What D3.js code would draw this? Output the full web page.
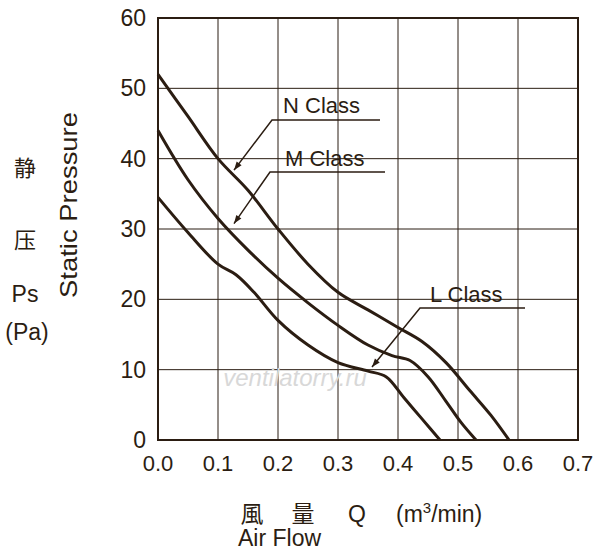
<!DOCTYPE html>
<html><head><meta charset="utf-8">
<script src="https://cdn.jsdelivr.net/npm/d3@7"></script>
<style>body{margin:0;background:#fff}text{font-family:"Liberation Sans",Arial,sans-serif;fill:#2b1d12}</style>
</head><body><svg id="c" width="600" height="558"></svg>
<script>
const xTicks = [0, 0.1, 0.2, 0.3, 0.4, 0.5, 0.6, 0.7];
const yTicks = [0, 10, 20, 30, 40, 50, 60];
const nClass = [[0,52],[0.05,46],[0.1,40],[0.15,35.5],[0.2,30],[0.25,25],[0.3,21],[0.35,18.5],[0.4,16],[0.44,14],[0.48,11],[0.52,7],[0.555,3.5],[0.585,0]];
const mClass = [[0,44],[0.05,37],[0.1,31.5],[0.15,27],[0.2,23],[0.25,19.5],[0.3,16.3],[0.35,13.5],[0.39,12],[0.42,11.3],[0.45,9],[0.48,5.5],[0.505,2.5],[0.53,0]];
const lClass = [[0,34.5],[0.05,29.5],[0.1,25],[0.13,23.5],[0.16,21],[0.2,17],[0.25,13.5],[0.3,11],[0.35,9.8],[0.38,9],[0.41,6],[0.44,3],[0.47,0]];

const svg = d3.select("#c");
const x = d3.scaleLinear().domain([0, 0.7]).range([158, 578]);
const y = d3.scaleLinear().domain([0, 60]).range([440, 18]);
const ink = "#2b1d12";

// grid
svg.append("g").selectAll("line").data(xTicks).join("line")
  .attr("x1", d => x(d)).attr("x2", d => x(d)).attr("y1", y(0)).attr("y2", y(60))
  .attr("stroke", ink).attr("stroke-width", 1);
svg.append("g").selectAll("line").data(yTicks).join("line")
  .attr("x1", x(0)).attr("x2", x(0.7)).attr("y1", d => y(d)).attr("y2", d => y(d))
  .attr("stroke", ink).attr("stroke-width", 1);
svg.append("rect").attr("x", x(0)).attr("y", y(60)).attr("width", x(0.7) - x(0)).attr("height", y(0) - y(60))
  .attr("fill", "none").attr("stroke", ink).attr("stroke-width", 2);

// tick labels
svg.append("g").selectAll("text").data(xTicks).join("text")
  .attr("x", d => x(d)).attr("y", 471).attr("text-anchor", "middle").attr("font-size", 22)
  .text(d => d.toFixed(1));
svg.append("g").selectAll("text").data(yTicks).join("text")
  .attr("x", 146).attr("y", d => y(d) + 8).attr("text-anchor", "end").attr("font-size", 23)
  .text(d => d);

// watermark
svg.append("text").attr("x", 295).attr("y", 386).attr("text-anchor", "middle")
  .attr("font-size", 24).attr("font-style", "italic").style("fill", "#d8d8d8").text("ventilatorry.ru");

// curves
const line = d3.line().x(d => x(d[0])).y(d => y(d[1])).curve(d3.curveCatmullRom);
[nClass, mClass, lClass].forEach(s => svg.append("path").attr("d", line(s))
  .attr("fill", "none").attr("stroke", ink).attr("stroke-width", 3));

// labels with leaders
const labels = [
  {t: "N Class", tx: 283, ty: 113, u1: 272, u2: 380, uy: 120, px: 0.12, py: 37.8},
  {t: "M Class", tx: 285, ty: 166, u1: 270, u2: 385, uy: 172, px: 0.12, py: 30.2},
  {t: "L Class", tx: 430, ty: 302, u1: 420, u2: 525, uy: 308, px: 0.35, py: 9.8}
];
labels.forEach(l => {
  svg.append("text").attr("x", l.tx).attr("y", l.ty).attr("font-size", 22).text(l.t);
  svg.append("polyline").attr("points", `${l.u2},${l.uy} ${l.u1},${l.uy} ${x(l.px) + 4},${y(l.py) - 4}`)
    .attr("fill", "none").attr("stroke", ink).attr("stroke-width", 1.5);
  const ang = Math.atan2(y(l.py) - 4 - l.uy, x(l.px) + 4 - l.u1);
  const ax = x(l.px) + 4, ay = y(l.py) - 4, s = 9;
  svg.append("path").attr("d", `M${ax},${ay} L${ax - s*Math.cos(ang - 0.35)},${ay - s*Math.sin(ang - 0.35)} L${ax - s*Math.cos(ang + 0.35)},${ay - s*Math.sin(ang + 0.35)}Z`)
    .attr("fill", ink);
});

// axis titles
svg.append("text").attr("x", 25).attr("y", 176).attr("text-anchor", "middle").attr("font-size", 22)
  .style("font-family", "Noto Sans CJK JP").text("静");
svg.append("text").attr("x", 25).attr("y", 248).attr("text-anchor", "middle").attr("font-size", 22)
  .style("font-family", "Noto Sans CJK JP").text("压");
svg.append("text").attr("x", 25).attr("y", 302).attr("text-anchor", "middle").attr("font-size", 23).text("Ps");
svg.append("text").attr("x", 27).attr("y", 340).attr("text-anchor", "middle").attr("font-size", 23).text("(Pa)");
svg.append("text").attr("transform", "translate(77,205) rotate(-90)").attr("text-anchor", "middle")
  .attr("font-size", 24).attr("textLength", 186).attr("lengthAdjust", "spacingAndGlyphs").text("Static Pressure");

const jp = [["風", 252], ["量", 303]];
jp.forEach(d => svg.append("text").attr("x", d[1]).attr("y", 522).attr("text-anchor", "middle")
  .attr("font-size", 23).style("font-family", "Noto Sans CJK JP").text(d[0]));
svg.append("text").attr("x", 357).attr("y", 522).attr("text-anchor", "middle").attr("font-size", 23).text("Q");
const un = svg.append("text").attr("x", 396).attr("y", 522).attr("font-size", 23);
un.append("tspan").text("(m");
un.append("tspan").attr("font-size", 15).attr("dy", -9).text("3");
un.append("tspan").attr("dy", 9).text("/min)");
svg.append("text").attr("x", 238).attr("y", 546).attr("font-size", 23).text("Air Flow");
</script></body></html>
